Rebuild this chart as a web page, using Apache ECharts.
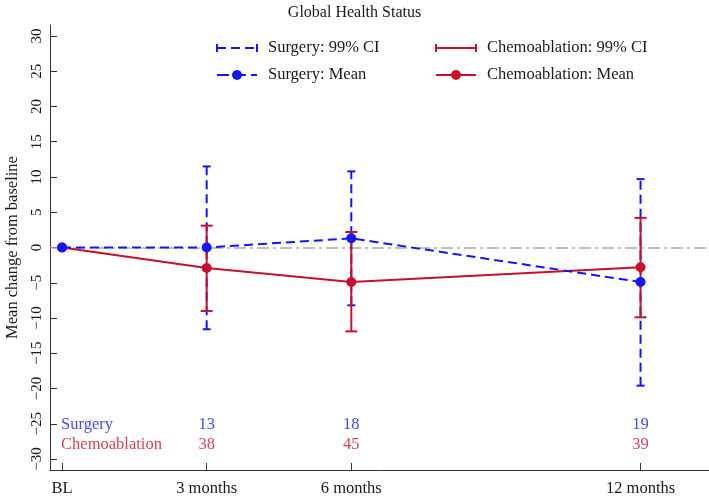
<!DOCTYPE html>
<html>
<head>
<meta charset="utf-8">
<script src="https://cdn.jsdelivr.net/npm/echarts@6/dist/echarts.min.js"></script>
<style>html,body{margin:0;padding:0;background:#fff}#c{width:709px;height:499px}</style>
</head>
<body>
<div id="c"></div>
<script>
// ---- data ----
const months = [0, 3, 6, 12];
const xLabels = ['BL', '3 months', '6 months', '12 months'];
const yTicks = [-30, -25, -20, -15, -10, -5, 0, 5, 10, 15, 20, 25, 30];
const surgeryMean = [0, 0, 1.3, -4.9];
const surgeryLow  = [null, -11.6, -8.2, -19.6];
const surgeryHigh = [null, 11.5, 10.8, 9.7];
const chemoMean = [0, -2.9, -4.9, -2.8];
const chemoLow  = [null, -9.0, -11.9, -9.9];
const chemoHigh = [null, 3.1, 2.2, 4.2];
const countMonths = [3, 6, 12];
const surgeryN = [13, 18, 19];
const chemoN = [38, 45, 39];
const groupNames = ['Surgery', 'Chemoablation'];
const legendNames = ['Surgery: 99% CI', 'Chemoablation: 99% CI', 'Surgery: Mean', 'Chemoablation: Mean'];

// ---- style ----
const BLUE = '#1414ff';
const RED = '#c8102e';
const FONT = 'Liberation Serif';
const DASH = [9, 5];
const rowY = [-25.2, -28.0];
const FS = 16.5;

function ciData(lo, hi) {
  const out = [];
  months.forEach((m, i) => { if (lo[i] != null) out.push([m, lo[i], hi[i]]); });
  return out;
}
function ciRender(color, dash, capHalf) {
  return function (params, api) {
    const x = api.value(0);
    const a = api.coord([x, api.value(1)]);
    const b = api.coord([x, api.value(2)]);
    const st = { stroke: color, lineWidth: 2, lineDash: dash };
    const cs = { stroke: color, lineWidth: 2 };
    return { type: 'group', children: [
      { type: 'line', shape: { x1: a[0], y1: a[1], x2: b[0], y2: b[1] }, style: st },
      { type: 'line', shape: { x1: a[0] - capHalf, y1: a[1], x2: a[0] + capHalf, y2: a[1] }, style: cs },
      { type: 'line', shape: { x1: b[0] - capHalf, y1: b[1], x2: b[0] + capHalf, y2: b[1] }, style: cs }
    ]};
  };
}
function countData(vals, y) { return countMonths.map((m, i) => [m, y, String(vals[i])]); }

function legendItem(x, y, color, dash, kind, text) {
  const ch = [];
  const x1 = x, x2 = x + 40;
  ch.push({ type: 'line', shape: { x1: x1, y1: y, x2: x2, y2: y }, style: { stroke: color, lineWidth: 2, lineDash: dash } });
  if (kind === 'ci') {
    ch.push({ type: 'line', shape: { x1: x1, y1: y - 4, x2: x1, y2: y + 4 }, style: { stroke: color, lineWidth: 2 } });
    ch.push({ type: 'line', shape: { x1: x2, y1: y - 4, x2: x2, y2: y + 4 }, style: { stroke: color, lineWidth: 2 } });
  } else {
    ch.push({ type: 'circle', shape: { cx: (x1 + x2) / 2, cy: y, r: 5 }, style: { fill: color } });
  }
  ch.push({ type: 'text', x: x2 + 11, y: y, style: { text: text, font: FS + 'px "' + FONT + '"', fill: '#1a1a1a', verticalAlign: 'middle', textAlign: 'left' } });
  return { type: 'group', children: ch };
}
function rowLabelSeries(vals, y, color) {
  return { type: 'scatter', z: 6, symbolSize: 0.1, itemStyle: { color: 'transparent' },
    data: countData(vals, y),
    label: { show: true, color: color, fontSize: FS, fontFamily: FONT, formatter: p => p.value[2], position: 'inside' } };
}
function rowNameSeries(y, color, name) {
  return { type: 'scatter', z: 6, symbolSize: 0.1, itemStyle: { color: 'transparent' },
    data: [[0, y, name]],
    label: { show: true, color: color, fontSize: FS, fontFamily: FONT, formatter: p => p.value[2], position: 'right', distance: -1 } };
}

const chart = echarts.init(document.getElementById('c'), null, { renderer: 'canvas' });
chart.setOption({
  animation: false,
  backgroundColor: '#fff',
  textStyle: { fontFamily: FONT },
  title: { text: 'Global Health Status', left: 'center', top: 0,
    textStyle: { fontFamily: FONT, fontSize: 16, fontWeight: 'normal', color: '#1a1a1a' } },
  grid: { left: 50, right: 0, top: 25, bottom: 29, outerBoundsMode: 'none', containLabel: false },
  xAxis: {
    type: 'value', min: -0.25, max: 13.42,
    splitLine: { show: false },
    axisLine: { show: true, onZero: false, lineStyle: { color: '#333', width: 1 } },
    axisTick: { show: true, inside: true, length: 7, customValues: months, lineStyle: { color: '#333' } },
    axisLabel: { customValues: months, margin: 10, fontSize: FS, color: '#1a1a1a', fontFamily: FONT,
      formatter: v => xLabels[months.indexOf(v)] }
  },
  yAxis: {
    type: 'value', min: -31.56, max: 31.56,
    name: 'Mean change from baseline', nameLocation: 'middle', nameGap: 29,
    nameTextStyle: { fontSize: FS, color: '#1a1a1a', fontFamily: FONT },
    splitLine: { show: false },
    axisLine: { show: true, onZero: false, lineStyle: { color: '#333', width: 1 } },
    axisTick: { show: true, inside: true, length: 7, customValues: yTicks, lineStyle: { color: '#333' } },
    axisLabel: { customValues: yTicks, rotate: 90, margin: 5, fontSize: 15, color: '#1a1a1a', fontFamily: FONT,
      formatter: v => (v < 0 ? '\u2212' + Math.abs(v) : String(v)) }
  },
  series: [
    { type: 'custom', name: legendNames[0], z: 2, renderItem: ciRender(BLUE, DASH, 4),
      encode: { x: 0, y: [1, 2] }, data: ciData(surgeryLow, surgeryHigh) },
    { type: 'custom', name: legendNames[1], z: 3, renderItem: ciRender(RED, null, 6),
      encode: { x: 0, y: [1, 2] }, data: ciData(chemoLow, chemoHigh) },
    { type: 'line', name: legendNames[3], z: 4, data: months.map((m, i) => [m, chemoMean[i]]),
      symbol: 'circle', symbolSize: 10, itemStyle: { color: RED },
      lineStyle: { color: RED, width: 2 },
      markLine: { silent: true, symbol: 'none', label: { show: false }, z: 1,
        lineStyle: { color: '#aaaaaa', width: 1.5, type: [12, 4, 3, 4] }, data: [{ yAxis: 0 }] } },
    { type: 'line', name: legendNames[2], z: 5, data: months.map((m, i) => [m, surgeryMean[i]]),
      symbol: 'circle', symbolSize: 10, itemStyle: { color: BLUE },
      lineStyle: { color: BLUE, width: 2, type: DASH } },
    rowLabelSeries(surgeryN, rowY[0], BLUE),
    rowLabelSeries(chemoN, rowY[1], RED),
    rowNameSeries(rowY[0], BLUE, groupNames[0]),
    rowNameSeries(rowY[1], RED, groupNames[1])
  ],
  graphic: [
    legendItem(217, 48, BLUE, DASH, 'ci', legendNames[0]),
    legendItem(436, 48, RED, null, 'ci', legendNames[1]),
    legendItem(217, 75, BLUE, [12, 5], 'mean', legendNames[2]),
    legendItem(436, 75, RED, null, 'mean', legendNames[3])
  ]
});
</script>
</body>
</html>
